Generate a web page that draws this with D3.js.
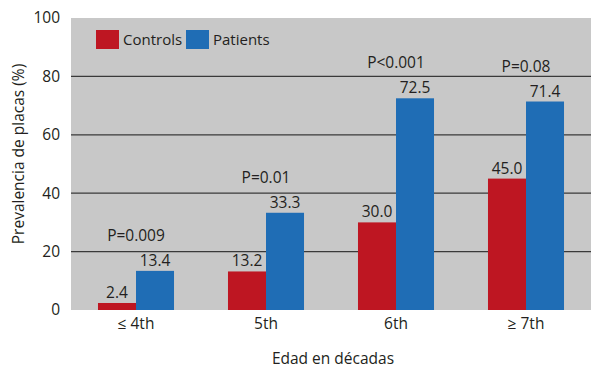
<!DOCTYPE html>
<html><head><meta charset="utf-8">
<script src="https://cdn.jsdelivr.net/npm/d3@7"></script>
<style>
body{margin:0;background:#fff;}
text{font-family:"Open Sans",sans-serif;fill:#231f20;}
</style></head>
<body><svg id="c" width="591" height="370"></svg>
<script>
const categories = ["≤ 4th","5th","6th","≥ 7th"];
const seriesNames = ["Controls","Patients"];
const controls = [2.4, 13.2, 30.0, 45.0];
const patients = [13.4, 33.3, 72.5, 71.4];
const pLabels = ["P=0.009","P=0.01","P<0.001","P=0.08"];
const yTicks = [0,20,40,60,80,100];
const colors = ["#be1622","#1f6db5"];

const svg = d3.select("#c");
const L=71, R=591, T=18, B=310;
const x0 = d3.scaleBand().domain(categories).range([L,R]).padding(0);
const x1 = d3.scaleBand().domain(seriesNames).range([0,x0.bandwidth()]).paddingInner(0).paddingOuter(0.71);
const y = d3.scaleLinear().domain([0,100]).range([B,T]);

svg.append("rect").attr("x",L).attr("y",T).attr("width",R-L).attr("height",B-T).attr("fill","#c8c8c8");

// gridlines
svg.append("g").selectAll("line").data(yTicks.filter(d=>d>0&&d<100)).join("line")
  .attr("x1",L).attr("x2",R).attr("y1",d=>y(d)).attr("y2",d=>y(d))
  .attr("stroke","#3a3a3a").attr("stroke-width",1.3);

// y axis
const ya = svg.append("g").attr("transform",`translate(${L},0)`)
  .call(d3.axisLeft(y).tickValues(yTicks).tickSize(0).tickPadding(11));
ya.select(".domain").remove();
ya.selectAll("text").attr("font-size",15.5).attr("font-family","'Open Sans',sans-serif").attr("fill","#231f20");

// x axis
const xa = svg.append("g").attr("transform",`translate(0,${B})`)
  .call(d3.axisBottom(x0).tickSize(0).tickPadding(8));
xa.select(".domain").remove();
xa.selectAll("text").attr("font-size",15.5).attr("font-family","'Open Sans',sans-serif").attr("fill","#231f20");

const data = categories.map((c,i)=>({cat:c, vals:[controls[i],patients[i]], p:pLabels[i]}));
const g = svg.append("g").selectAll("g").data(data).join("g")
  .attr("transform",d=>`translate(${x0(d.cat)},0)`);
g.selectAll("rect").data(d=>d.vals.map((v,j)=>({v,s:seriesNames[j],j}))).join("rect")
  .attr("x",d=>x1(d.s)).attr("width",x1.bandwidth())
  .attr("y",d=>y(d.v)).attr("height",d=>B-y(d.v)).attr("fill",d=>colors[d.j]);
g.selectAll("text.v").data(d=>d.vals.map((v,j)=>({v,s:seriesNames[j]}))).join("text").attr("class","v")
  .attr("x",d=>x1(d.s)+x1.bandwidth()/2).attr("y",d=>y(d.v)-5)
  .attr("text-anchor","middle").attr("font-size",15.5).text(d=>d.v.toFixed(1));
g.append("text").attr("x",x0.bandwidth()/2).attr("y",d=>y(d3.max(d.vals))-30)
  .attr("text-anchor","middle").attr("font-size",15.5).text(d=>d.p);

// legend
const lg = svg.append("g");
const lx=[96,186];
seriesNames.forEach((s,i)=>{
  lg.append("rect").attr("x",lx[i]).attr("y",30).attr("width",23).attr("height",19).attr("fill",colors[i]);
  lg.append("text").attr("x",lx[i]+27).attr("y",45).attr("font-size",15).text(s);
});

// axis titles
svg.append("text").attr("transform",`translate(24,154) rotate(-90)`).attr("text-anchor","middle")
  .attr("font-size",15.5).text("Prevalencia de placas (%)");
svg.append("text").attr("x",333).attr("y",364).attr("text-anchor","middle").attr("font-size",15.5).text("Edad en décadas");
</script></body></html>
